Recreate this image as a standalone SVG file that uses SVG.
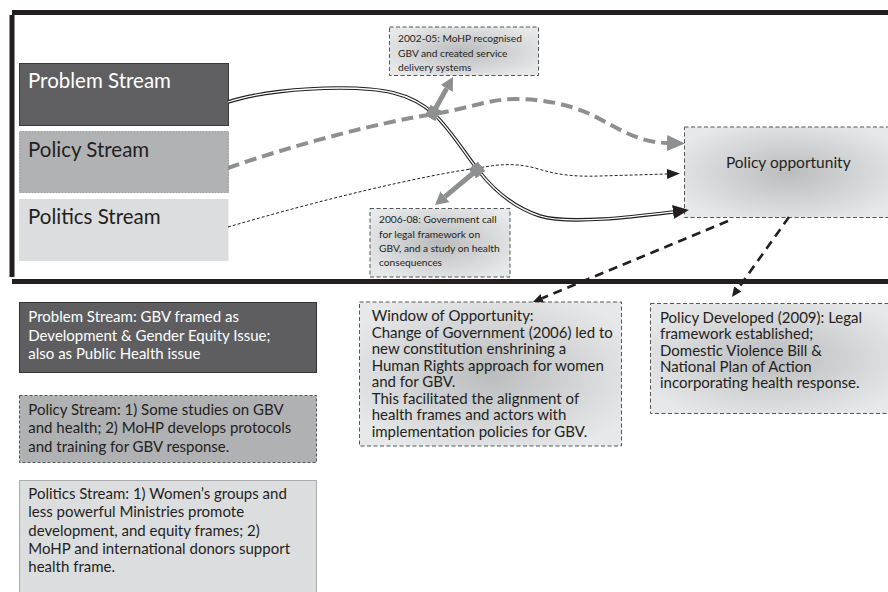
<svg xmlns="http://www.w3.org/2000/svg" width="888" height="592" viewBox="0 0 888 592">
<style>
  text { font-family: Lato, "Liberation Sans", sans-serif; fill: #231f20; }
  .title { font-size: 20.5px; }
  .small { font-size: 10.2px; }
  .body { font-size: 15px; }
  .white { fill: #ffffff; }
  .frame { fill: #231f20; }
  .callout { stroke: #555; stroke-width: 1; stroke-dasharray: 4,2.5; }
</style>
<defs>
  <radialGradient id="g1" cx="0.5" cy="0.5" r="0.6">
    <stop offset="0" stop-color="#bbbcbe"/>
    <stop offset="1" stop-color="#e7e8e9"/>
  </radialGradient>
  <marker id="mGray" markerUnits="userSpaceOnUse" markerWidth="18" markerHeight="16" refX="0" refY="8" orient="auto">
    <path d="M0,0 L18,8 L0,16 z" fill="#8e8f91"/>
  </marker>
  <marker id="mDot" markerUnits="userSpaceOnUse" markerWidth="13" markerHeight="10" refX="0" refY="5" orient="auto">
    <path d="M0,0 L13,5 L0,10 z" fill="#231f20"/>
  </marker>
  <marker id="mDouble" markerUnits="userSpaceOnUse" markerWidth="16" markerHeight="14" refX="0" refY="7" orient="auto">
    <path d="M0,0 L16,7 L0,14 z" fill="#231f20"/>
  </marker>
  <marker id="mCall" markerUnits="userSpaceOnUse" markerWidth="13" markerHeight="14" refX="0" refY="7" orient="auto">
    <path d="M0,0 L13,7 L0,14 z" fill="#8e8f91"/>
  </marker>
  <marker id="mSq" markerUnits="userSpaceOnUse" markerWidth="12" markerHeight="12" refX="6" refY="6" orient="auto">
    <rect x="0" y="0" width="12" height="12" fill="#8e8f91"/>
  </marker>
  <marker id="mSmall" markerUnits="userSpaceOnUse" markerWidth="10" markerHeight="9" refX="0" refY="4.5" orient="auto">
    <path d="M0,0 L10,4.5 L0,9 z" fill="#231f20"/>
  </marker>
</defs>

<g id="frame">
  <rect class="frame" x="12" y="10" width="880" height="5"/>
  <rect class="frame" x="9.5" y="15" width="5" height="262"/>
  <rect class="frame" x="12" y="279" width="880" height="5"/>
</g>

<g id="problem-stream">
  <rect x="19.5" y="63.5" width="209" height="62" fill="#5f5f61" stroke="#3a3a3c" stroke-width="1"/>
  <text class="title white" x="28" y="88">Problem Stream</text>
</g>
<g id="policy-stream">
  <rect x="19.5" y="131.5" width="209" height="61" fill="#b1b2b4" stroke="#8a8a8c" stroke-width="0.8" stroke-dasharray="2,1"/>
  <text class="title" x="28" y="156.5">Policy Stream</text>
</g>
<g id="politics-stream">
  <rect x="19" y="199" width="209.5" height="62" fill="#dcdddf"/>
  <text class="title" x="28" y="224">Politics Stream</text>
</g>

<g id="event-2002">
  <rect class="callout" x="389.5" y="27" width="149" height="48.5" fill="url(#g1)"/>
  <text class="small" x="398" y="42.3">2002-05: MoHP recognised</text>
  <text class="small" x="398" y="56.5">GBV and created service</text>
  <text class="small" x="398" y="70.5">delivery systems</text>
</g>
<g id="event-2006">
  <rect class="callout" x="370" y="208.5" width="140" height="68.5" fill="url(#g1)"/>
  <text class="small" x="379" y="223.3">2006-08: Government call</text>
  <text class="small" x="379" y="237.5">for legal framework on</text>
  <text class="small" x="379" y="251.5">GBV, and a study on health</text>
  <text class="small" x="379" y="265.5">consequences</text>
</g>

<g id="policy-opportunity">
  <rect class="callout" x="684.5" y="127" width="210" height="90.5" fill="url(#g1)"/>
  <text x="788.3" y="167.5" text-anchor="middle" style="font-size:15.5px">Policy opportunity</text>
</g>

<g id="problem-text">
  <rect x="19.5" y="302.5" width="297" height="70" fill="#5e5e60" stroke="#333335" stroke-width="1"/>
  <text class="body white" x="28.3" y="322.3">Problem Stream: GBV framed as</text>
  <text class="body white" x="28.3" y="340.6">Development &amp; Gender Equity Issue;</text>
  <text class="body white" x="28.3" y="358.9">also as Public Health issue</text>
</g>
<g id="policy-text">
  <rect x="19.5" y="395.5" width="297" height="67" fill="#b0b1b3" stroke="#555" stroke-width="1" stroke-dasharray="3,2"/>
  <text class="body" x="28.3" y="415">Policy Stream: 1) Some studies on GBV</text>
  <text class="body" x="28.3" y="433.3">and health; 2) MoHP develops protocols</text>
  <text class="body" x="28.3" y="451.6">and training for GBV response.</text>
</g>
<g id="politics-text">
  <rect x="19.5" y="480.5" width="297" height="118" fill="#dcdddf" stroke="#666" stroke-width="1" stroke-dasharray="1,1"/>
  <text class="body" x="28.3" y="499">Politics Stream: 1) Women’s groups and</text>
  <text class="body" x="28.3" y="517.3">less powerful Ministries promote</text>
  <text class="body" x="28.3" y="535.6">development, and equity frames; 2)</text>
  <text class="body" x="28.3" y="553.9">MoHP and international donors support</text>
  <text class="body" x="28.3" y="572.2">health frame.</text>
</g>

<g id="window-of-opportunity">
  <rect class="callout" x="359.5" y="302" width="262" height="144" fill="url(#g1)"/>
  <text class="body" x="371.7" y="321.2">Window of Opportunity:</text>
  <text class="body" x="371.7" y="337.7">Change of Government (2006) led to</text>
  <text class="body" x="371.7" y="354.2">new constitution enshrining a</text>
  <text class="body" x="371.7" y="370.7">Human Rights approach for women</text>
  <text class="body" x="371.7" y="387.2">and for GBV.</text>
  <text class="body" x="371.7" y="403.7">This facilitated the alignment of</text>
  <text class="body" x="371.7" y="420.2">health frames and actors with</text>
  <text class="body" x="371.7" y="436.7">implementation policies for GBV.</text>
</g>

<g id="policy-developed">
  <rect class="callout" x="650.5" y="303.5" width="245" height="110" fill="url(#g1)"/>
  <text class="body" x="660" y="322.7">Policy Developed (2009): Legal</text>
  <text class="body" x="660" y="339.1">framework established;</text>
  <text class="body" x="660" y="355.5">Domestic Violence Bill &amp;</text>
  <text class="body" x="660" y="371.9">National Plan of Action</text>
  <text class="body" x="660" y="388.3">incorporating health response.</text>
</g>

<g id="connectors" fill="none">
  <path d="M228,168 C290,146 380,122 434,114 C470,108 490,99 515,99 C545,99 570,105 590,114 C615,126 635,142 667,143" stroke="#8e8f91" stroke-width="4" stroke-dasharray="12,6" marker-end="url(#mGray)"/>
  <path d="M228,227 C320,200 420,176 478,168 C500,164 515,163 535,168 C555,174 570,177 600,176 L667,174" stroke="#231f20" stroke-width="1" stroke-dasharray="3,2" marker-end="url(#mDot)"/>
  <path d="M228,102 C255,93 300,88 340,88 C380,88 410,92 434,114 C450,129 464,152 478,170 C492,188 512,207 540,216 C570,225 640,216 673,212" stroke="#231f20" stroke-width="3.6" marker-end="url(#mDouble)"/>
  <path d="M228,102 C255,93 300,88 340,88 C380,88 410,92 434,114 C450,129 464,152 478,170 C492,188 512,207 540,216 C570,225 640,216 673,212" stroke="#ffffff" stroke-width="1.3"/>
  <path d="M433,113 L446.7,88.4" stroke="#8e8f91" stroke-width="5" marker-start="url(#mSq)" marker-end="url(#mCall)"/>
  <path d="M477,170 L445,196.7" stroke="#8e8f91" stroke-width="5" marker-start="url(#mSq)" marker-end="url(#mCall)"/>
  <path d="M728,221 L542.2,298.2" stroke="#231f20" stroke-width="2.6" stroke-dasharray="9,6" marker-end="url(#mSmall)"/>
  <path d="M789,217 L737.8,288.9" stroke="#231f20" stroke-width="2.6" stroke-dasharray="9,6" marker-end="url(#mSmall)"/>
</g>
</svg>
